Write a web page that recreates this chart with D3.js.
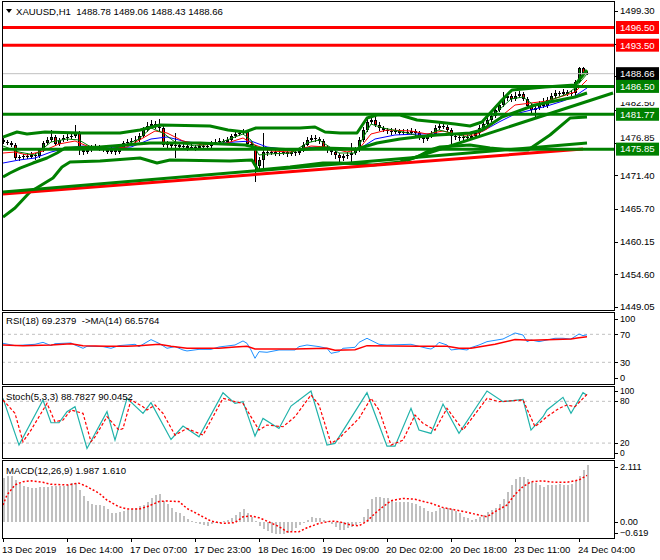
<!DOCTYPE html>
<html><head><meta charset="utf-8">
<script src="https://cdn.jsdelivr.net/npm/d3@7/dist/d3.min.js"></script>
<style>
html,body{margin:0;padding:0;background:#fff;overflow:hidden}
text{font-family:"Liberation Sans",Arial,sans-serif;font-size:9.6px;white-space:pre}
</style></head><body>
<svg id="chart" width="660" height="560"></svg>
<script>
// ---------------- DATA ----------------
const symbol = "XAUUSD,H1";
const barOpen = [1477.40,1477.06,1476.89,1476.55,1474.34,1474.51,1474.68,1474.51,1474.85,1474.68,
1475.70,1476.89,1477.40,1477.91,1476.72,1477.40,1477.74,1477.91,1478.08,1478.59,
1475.70,1475.36,1475.70,1476.04,1476.21,1476.04,1475.70,1475.36,1475.70,1475.36,
1476.04,1476.89,1477.06,1477.23,1477.40,1478.08,1479.10,1479.78,1480.11,1479.61,
1479.44,1476.55,1476.72,1476.38,1476.55,1476.21,1476.38,1476.04,1476.21,1476.04,
1476.38,1476.21,1476.38,1476.89,1477.06,1477.23,1477.06,1477.40,1478.08,1478.42,
1478.59,1478.76,1476.72,1476.21,1472.98,1474.00,1475.36,1475.19,1475.36,1475.02,
1475.19,1475.36,1475.02,1475.36,1475.19,1475.53,1476.55,1477.40,1477.74,1477.57,
1477.23,1476.21,1475.70,1475.36,1474.85,1474.34,1474.68,1474.85,1475.19,1475.70,
1477.40,1479.10,1480.45,1480.79,1479.94,1479.44,1479.10,1478.93,1478.76,1478.93,
1478.59,1478.76,1478.59,1478.93,1478.59,1477.91,1477.57,1478.08,1478.42,1479.44,
1479.78,1479.61,1479.10,1478.08,1477.91,1477.74,1477.91,1477.74,1478.08,1478.59,
1479.44,1480.11,1480.79,1481.47,1482.49,1483.34,1484.53,1484.87,1484.36,1484.87,
1485.21,1484.36,1483.17,1482.49,1482.83,1483.51,1483.17,1484.19,1484.87,1485.38,
1485.21,1485.55,1485.21,1485.38,1487.25,1489.62,1488.78];
const barHigh = [1477.80,1477.45,1477.20,1476.90,1474.90,1475.10,1475.20,1475.30,1475.20,1476.10,
1477.30,1477.90,1479.10,1478.30,1477.80,1478.20,1478.40,1478.60,1479.94,1478.90,
1476.10,1476.30,1476.50,1476.70,1476.60,1476.40,1476.10,1476.20,1476.00,1476.50,
1477.30,1477.60,1477.70,1478.00,1478.60,1479.60,1480.40,1480.80,1480.60,1481.00,
1479.80,1477.20,1477.10,1478.59,1477.00,1476.90,1476.80,1476.70,1476.60,1476.90,
1476.80,1476.90,1477.30,1477.50,1477.70,1477.60,1477.90,1478.50,1478.90,1479.10,
1479.30,1479.10,1477.10,1476.60,1474.50,1478.59,1475.80,1475.90,1475.70,1475.70,
1475.90,1475.80,1475.90,1475.80,1476.00,1477.00,1477.90,1478.30,1478.20,1477.90,
1477.60,1476.60,1476.10,1475.70,1475.20,1475.10,1475.40,1476.90,1476.20,1477.90,
1479.60,1481.13,1481.64,1481.30,1480.40,1479.80,1479.50,1479.40,1479.40,1479.30,
1479.20,1479.20,1479.40,1479.30,1479.00,1478.30,1478.50,1478.90,1479.90,1480.30,
1480.20,1480.00,1479.40,1478.50,1478.30,1478.40,1478.30,1478.60,1479.00,1479.90,
1480.60,1481.30,1482.00,1483.00,1484.00,1485.55,1485.40,1485.20,1485.50,1485.70,
1485.50,1484.70,1483.50,1483.30,1484.00,1484.50,1484.70,1485.30,1485.90,1485.80,
1486.10,1485.90,1485.90,1487.60,1489.79,1489.80,1489.06];
const barLow = [1476.70,1476.50,1476.20,1474.00,1473.90,1474.10,1474.10,1474.20,1474.00,1474.40,
1475.40,1476.60,1477.10,1476.30,1476.40,1477.10,1477.30,1477.50,1477.80,1474.85,
1474.90,1475.00,1475.30,1475.70,1475.60,1475.30,1475.00,1475.00,1474.90,1475.10,
1475.80,1476.60,1476.70,1476.90,1477.10,1477.80,1478.80,1479.40,1479.20,1479.00,
1476.20,1476.00,1475.90,1474.34,1475.80,1475.80,1475.60,1475.70,1475.50,1475.70,
1475.80,1475.90,1476.00,1476.60,1476.70,1476.70,1476.80,1477.10,1477.80,1478.10,
1478.20,1476.40,1475.80,1470.27,1472.40,1472.30,1474.70,1474.80,1474.60,1474.60,
1474.80,1474.50,1474.70,1474.70,1474.80,1475.30,1476.30,1477.10,1477.10,1476.80,
1475.80,1475.20,1474.80,1474.20,1473.50,1473.90,1474.20,1473.50,1474.90,1475.40,
1477.10,1478.80,1480.10,1479.60,1479.00,1478.70,1478.50,1478.30,1478.40,1478.20,
1478.20,1478.20,1478.30,1478.10,1477.40,1476.90,1477.20,1477.80,1478.10,1479.10,
1479.20,1478.70,1476.21,1477.40,1477.30,1477.30,1477.20,1477.40,1477.80,1478.30,
1479.10,1479.80,1480.40,1481.10,1482.10,1483.00,1484.10,1483.90,1484.00,1484.50,
1484.00,1482.80,1481.80,1481.30,1482.50,1482.80,1482.90,1483.90,1484.60,1484.90,
1484.90,1484.90,1484.80,1484.60,1487.00,1488.50,1488.43];
const barClose = [1477.06,1476.89,1476.55,1474.34,1474.51,1474.68,1474.51,1474.85,1474.68,1475.70,
1476.89,1477.40,1477.91,1476.72,1477.40,1477.74,1477.91,1478.08,1478.59,1475.70,
1475.36,1475.70,1476.04,1476.21,1476.04,1475.70,1475.36,1475.70,1475.36,1476.04,
1476.89,1477.06,1477.23,1477.40,1478.08,1479.10,1479.78,1480.11,1479.61,1479.44,
1476.55,1476.72,1476.38,1476.55,1476.21,1476.38,1476.04,1476.21,1476.04,1476.38,
1476.21,1476.38,1476.89,1477.06,1477.23,1477.06,1477.40,1478.08,1478.42,1478.59,
1478.76,1476.72,1476.21,1472.98,1474.00,1475.36,1475.19,1475.36,1475.02,1475.19,
1475.36,1475.02,1475.36,1475.19,1475.53,1476.55,1477.40,1477.74,1477.57,1477.23,
1476.21,1475.70,1475.36,1474.85,1474.34,1474.68,1474.85,1475.19,1475.70,1477.40,
1479.10,1480.45,1480.79,1479.94,1479.44,1479.10,1478.93,1478.76,1478.93,1478.59,
1478.76,1478.59,1478.93,1478.59,1477.91,1477.57,1478.08,1478.42,1479.44,1479.78,
1479.61,1479.10,1478.08,1477.91,1477.74,1477.91,1477.74,1478.08,1478.59,1479.44,
1480.11,1480.79,1481.47,1482.49,1483.34,1484.53,1484.87,1484.36,1484.87,1485.21,
1484.36,1483.17,1482.49,1482.83,1483.51,1483.17,1484.19,1484.87,1485.38,1485.21,
1485.55,1485.21,1485.38,1487.25,1489.62,1488.78,1488.66];

// thin moving averages (bar index, price)
const maFastBars = [0,4,8,12,16,19,22,26,30,34,37,40,43,48,54,58,60,62,64,66,72,76,79,84,88,90,92,95,100,105,109,112,116,120,124,127,130,133,137,141,143,146];
const maFastVals = [1476.38,1475.36,1474.85,1477.06,1477.57,1477.40,1476.21,1475.70,1476.38,1477.57,1479.44,1478.59,1477.06,1476.38,1476.89,1477.91,1478.42,1477.40,1474.85,1475.02,1475.19,1476.89,1477.40,1475.19,1475.19,1477.74,1480.11,1479.44,1478.76,1477.91,1479.10,1478.59,1477.91,1479.61,1482.49,1484.36,1484.70,1483.17,1484.19,1485.21,1486.23,1488.60];
const maMidBars = [0,3,6,10,14,18,21,26,31,35,38,41,45,50,56,60,63,67,72,77,81,86,89,92,96,102,106,110,114,118,121,124,128,132,136,140,143,146];
const maMidVals = [1475.19,1475.36,1474.85,1475.53,1476.72,1477.23,1476.38,1475.87,1476.21,1477.74,1478.93,1478.59,1477.23,1476.55,1476.89,1477.74,1476.55,1475.53,1475.36,1476.38,1476.21,1475.36,1475.87,1478.42,1479.10,1478.93,1478.42,1478.93,1478.25,1478.25,1479.27,1481.13,1483.34,1483.68,1484.02,1484.87,1485.55,1487.59];
const maSlowBars = [0,4,8,12,16,20,26,32,37,41,46,52,58,62,66,72,78,84,89,93,98,104,110,116,120,124,128,132,136,140,143,146];
const maSlowVals = [1473.49,1474.00,1474.34,1475.36,1476.04,1476.38,1476.04,1476.21,1477.57,1477.91,1477.06,1476.72,1477.06,1477.23,1476.21,1475.70,1476.21,1475.70,1475.87,1477.57,1478.25,1478.42,1478.42,1478.42,1478.93,1480.45,1481.81,1482.49,1483.17,1484.02,1484.87,1486.23];

// Bollinger bands
const bbUpBars = [0,3.5,6,10.5,19.25,29.25,34.25,39.25,51.75,56.25,60.5,63.25,74.25,78,80.5,84.25,88.5,91,93.5,99.25,103.5,108.5,113,116.75,119.75,124.75,127.25,135.5,143,146];
const bbUpVals = [1477.91,1478.76,1478.42,1478.76,1478.59,1478.59,1479.10,1479.94,1479.78,1479.10,1478.76,1479.44,1479.44,1479.61,1478.76,1478.59,1478.59,1481.13,1481.64,1481.64,1480.79,1480.45,1480.11,1479.78,1480.45,1484.19,1485.89,1486.40,1486.74,1489.28];
const bbMidBars = [0,1.75,4.25,7.5,11,13.5,15.5,24.25,36.75,49.25,60.5,63.75,73,80,88.5,93.5,99.25,103.5,108.5,113,116.75,119.75,124.75,133,143,146];
const bbMidVals = [1471.12,1471.80,1472.64,1473.49,1474.34,1475.19,1476.04,1476.21,1476.89,1476.89,1476.55,1476.04,1475.70,1476.04,1475.87,1476.89,1477.57,1477.91,1478.25,1478.42,1478.59,1479.10,1481.30,1483.34,1484.70,1485.38];
const bbLowBars = [0,3,6.75,12.5,14.75,16.75,24.25,34.25,38.5,41.75,56.75,62.25,63.75,71.75,80,84.25,92.5,99.25,103.5,106.75,109.25,116.75,121.75,126.75,131.25,136.75,141.75,146];
const bbLowVals = [1464.32,1465.85,1468.57,1470.95,1472.81,1473.66,1473.83,1474.34,1473.49,1474.00,1473.83,1474.00,1472.30,1472.81,1473.49,1473.49,1473.15,1473.66,1474.51,1475.70,1476.21,1476.55,1476.04,1475.70,1475.70,1478.25,1481.13,1481.30];

// trend lines [bar, price] endpoints
const redTrendBars = [0,145];   const redTrendVals = [1468.23,1475.87];
const greenTrend1Bars = [0,146]; const greenTrend1Vals = [1468.57,1476.89];
const greenTrend2Bars = [101,152.5]; const greenTrend2Vals = [1474.00,1485.38];

// horizontal levels
const resistanceLevels = [1496.50,1493.50];
const supportLevels = [1486.50,1481.77,1475.85];
const lastPrice = 1488.66;
const priceTicks = [1499.30,1493.75,1488.20,1482.50,1476.85,1471.40,1465.70,1460.15,1454.60,1449.05];

// RSI(18) and its MA(14)
const rsiBars = [0,3,8,10,12,13,17,18,20,21,23,25,27,29,33,34,35,37,39,41,43,45,46,49,52,54,58,60,61,62,63,64,66,69,73,74,76,79,81,82,84,85,88,89,91,92,94,96,102,104,106,107,108,109,111,112,114,116,117,119,121,125,127,128,130,131,132,134,136,138,140,142,144,145,146];
const rsiVals = [57.1,53.8,55.7,58.5,53.8,56.6,57.6,54.7,50.0,52.8,52.8,52.4,50.0,53.8,55.7,52.4,55.7,62.4,57.1,50.0,52.4,47.6,46.2,48.5,48.5,51.9,54.7,60.5,57.1,47.6,35.7,45.2,44.3,47.6,47.6,52.4,54.7,52.4,50.0,42.8,45.2,50.0,51.4,58.5,64.3,61.4,55.7,54.7,55.7,52.8,50.0,49.0,52.4,58.5,54.7,47.6,49.0,47.6,51.0,54.7,59.5,63.3,69.0,71.9,69.0,59.5,61.9,59.5,61.9,64.3,64.3,63.3,70.4,68.1,69.2379];
const rsiMaBars = [0,5,12,17,20,26,31,34,39,42,46,54,58,61,63,73,81,83,88,91,104,111,114,117,123,128,132,138,142,144,146];
const rsiMaVals = [54.7,53.8,54.7,56.6,53.8,52.8,52.8,53.8,55.7,52.8,50.0,50.0,51.9,52.8,49.0,49.0,50.0,47.1,48.1,53.8,52.8,52.8,50.0,50.0,55.7,62.4,61.4,62.4,63.3,65.2,66.5764];
const rsiTicks = [100,70,30,0];
const rsiLevels = [70,30];

// Stochastic(5,3,3)
const stoMainBars = [0,4,10,12,14,16,18,21,26,28,31,35,37,42,45,49,55,58,60,63,65,69,72,77,81,83,91,96,98,102,104,107,110,114,121,125,130,132,135,136,140,142,145,146];
const stoMainVals = [84.3,17.1,81.9,49.2,49.2,65.1,72.3,12.3,65.1,24.2,84.3,62.7,78.0,25.2,44.4,29.0,92.4,77.0,79.5,30.0,55.5,41.0,73.2,94.8,17.1,19.5,92.4,15.6,15.6,69.9,38.7,33.9,76.1,33.9,94.8,79.5,82.8,38.7,57.9,67.5,85.7,62.7,92.4,88.7827];
const stoSigBars = [0,3,5,7,11,13,15,17,20,22,23,26,29,30,32,35,36,38,40,43,46,50,55,58,60,64,66,70,73,77,79,82,84,89,92,94,97,100,103,105,108,111,115,121,124,130,133,136,139,141,143,146];
const stoSigVals = [81.9,62.7,21.9,38.7,77.0,50.7,53.1,67.5,62.7,21.9,29.0,57.9,38.7,41.0,81.9,72.3,67.5,74.7,62.7,31.5,41.0,31.5,84.3,79.5,77.0,38.7,45.9,43.5,57.9,89.1,74.7,19.5,26.7,55.5,84.3,67.5,17.1,24.2,60.3,48.3,38.7,69.9,38.7,84.3,79.5,81.9,43.5,57.9,69.9,74.7,72.3,90.0452];
const stoTicks = [100,80,20,0];
const stoLevels = [80,20];

// MACD(12,26,9)
const macdHist = [1.51,1.60,1.60,1.45,1.30,1.25,1.22,1.18,1.16,1.21,
1.22,1.22,1.23,1.25,1.25,1.23,1.28,1.34,1.36,1.10,
0.88,0.72,0.63,0.58,0.58,0.53,0.43,0.31,0.29,0.34,
0.38,0.41,0.43,0.49,0.53,0.59,0.70,0.84,0.93,0.95,
0.72,0.62,0.49,0.35,0.29,0.21,0.09,0.02,-0.03,-0.08,
-0.13,-0.14,-0.09,-0.06,-0.05,0.01,0.06,0.12,0.22,0.34,
0.44,0.31,0.15,0.02,-0.15,-0.26,-0.33,-0.38,-0.42,-0.44,
-0.44,-0.39,-0.34,-0.21,-0.10,-0.01,0.06,0.17,0.14,0.12,
0.07,0.03,-0.08,-0.17,-0.29,-0.29,-0.23,-0.19,-0.12,-0.03,
0.15,0.45,0.78,0.85,0.85,0.81,0.81,0.75,0.70,0.67,
0.70,0.67,0.65,0.60,0.55,0.46,0.37,0.33,0.37,0.46,
0.46,0.48,0.43,0.36,0.29,0.17,0.12,0.06,0.09,0.16,
0.22,0.33,0.39,0.49,0.60,0.79,1.05,1.28,1.49,1.57,
1.56,1.50,1.39,1.34,1.28,1.22,1.28,1.28,1.28,1.30,
1.28,1.28,1.30,1.42,1.60,1.80,1.987];
const macdSigBars = [0,1,3,5,7,10,12,16,19,21,24,26,29,31,34,36,39,41,44,46,50,52,55,58,60,62,64,66,69,71,74,76,79,82,84,87,89,91,93,95,97,100,103,107,110,113,116,119,121,123,126,128,130,132,135,138,141,144,146];
const macdSigVals = [0.58,0.93,1.28,1.39,1.42,1.37,1.30,1.28,1.34,1.22,0.99,0.75,0.52,0.44,0.44,0.52,0.70,0.72,0.70,0.46,0.17,0.02,-0.06,-0.03,0.17,0.20,0.14,0.02,-0.17,-0.35,-0.35,-0.21,-0.06,0.02,0.00,-0.12,-0.14,0.02,0.29,0.52,0.73,0.81,0.78,0.64,0.49,0.41,0.33,0.23,0.17,0.35,0.58,0.95,1.22,1.39,1.42,1.37,1.37,1.45,1.610];
const macdRange = [-0.619,2.111];
const macdTicks = [2.111,0.00,-0.619];

// time axis
const timeTickBars = [0,16,32,48,64,80,96,112,128,144];
const timeTickLabels = ["13 Dec 2019","16 Dec 14:00","17 Dec 07:00","17 Dec 23:00","18 Dec 16:00","19 Dec 09:00","20 Dec 02:00","20 Dec 18:00","23 Dec 11:00","24 Dec 04:00"];

// ---------------- DRAW ----------------
const GREEN="#008000", RED="#ff0000", BLUE="#0000ff";
const svg=d3.select("#chart");
const XL=2, XR=614;
const P={main:[1,310],rsi:[312,384],sto:[386,458],macd:[460,538]};
const n=barClose.length;
const x=d3.scaleLinear().domain([0,n-1]).range([3,587]);
const yP=d3.scaleLinear().domain([1449.05,1499.30]).range([307,11]);
const yR=d3.scaleLinear().domain([0,100]).range([383.3,313.3]);
const yS=d3.scaleLinear().domain([0,100]).range([457,387.4]);
const yM=d3.scaleLinear().domain(macdRange).range([539.5,461]);
const zip=(b,v)=>b.map((d,k)=>[d,v[k]]);

const defs=svg.append("defs");
Object.entries(P).forEach(([k,[t,b]])=>{
  defs.append("clipPath").attr("id","clip-"+k).append("rect")
    .attr("x",XL+1).attr("y",t+1).attr("width",XR-XL-1).attr("height",b-t-1);
});

// ---------- main panel ----------
const gMain=svg.append("g").attr("clip-path","url(#clip-main)");
const gC=gMain.append("g").attr("shape-rendering","crispEdges");
const idx=d3.range(n);
gC.selectAll("line.w").data(idx).join("line").attr("class","w")
  .attr("x1",i=>Math.round(x(i))+0.5).attr("x2",i=>Math.round(x(i))+0.5)
  .attr("y1",i=>yP(barHigh[i])).attr("y2",i=>yP(barLow[i])).attr("stroke","#000");
const bodyTop=i=>Math.round(yP(Math.max(barOpen[i],barClose[i])));
const bodyH=i=>Math.max(1,Math.round(yP(Math.min(barOpen[i],barClose[i])))-bodyTop(i));
gC.selectAll("rect.b").data(idx).join("rect").attr("class","b")
  .attr("x",i=>Math.round(x(i))-1).attr("y",bodyTop).attr("width",3).attr("height",bodyH).attr("fill","#000");
gC.selectAll("rect.f").data(idx.filter(i=>bodyH(i)>2)).join("rect").attr("class","f")
  .attr("x",i=>Math.round(x(i))).attr("y",i=>bodyTop(i)+1).attr("width",1).attr("height",i=>bodyH(i)-2)
  .attr("fill",i=>barClose[i]>=barOpen[i]?GREEN:RED);

const lineP=d3.line().x(d=>x(d[0])).y(d=>yP(d[1]));
function pl(g,data,color,w){
  return g.append("path").attr("d",lineP(data)).attr("fill","none").attr("stroke",color)
    .attr("stroke-width",w).attr("stroke-linejoin","round");
}
pl(gMain,zip(maSlowBars,maSlowVals),BLUE,1);
pl(gMain,zip(maMidBars,maMidVals),RED,1);
pl(gMain,zip(maFastBars,maFastVals),GREEN,1);
pl(gMain,zip(bbUpBars,bbUpVals),GREEN,3);
pl(gMain,zip(bbMidBars,bbMidVals),GREEN,3);
pl(gMain,zip(bbLowBars,bbLowVals),GREEN,3);
pl(gMain,zip(redTrendBars,redTrendVals),RED,3);
pl(gMain,zip(greenTrend1Bars,greenTrend1Vals),GREEN,3);
pl(gMain,zip(greenTrend2Bars,greenTrend2Vals),GREEN,3);
gMain.append("line").attr("x1",XL).attr("x2",XR).attr("y1",yP(lastPrice)).attr("y2",yP(lastPrice))
  .attr("stroke","#c0c0c0").attr("stroke-width",1);
gMain.selectAll("line.res").data(resistanceLevels).join("line").attr("class","res")
  .attr("x1",XL).attr("x2",XR).attr("y1",d=>yP(d)).attr("y2",d=>yP(d)).attr("stroke",RED).attr("stroke-width",3);
gMain.selectAll("line.sup").data(supportLevels).join("line").attr("class","sup")
  .attr("x1",XL).attr("x2",XR).attr("y1",d=>yP(d)).attr("y2",d=>yP(d)).attr("stroke",GREEN).attr("stroke-width",3);

// header
svg.append("path").attr("d","M6,9 L12,9 L9,13 Z").attr("fill","#000");
const lastI=n-1;
svg.append("text").attr("x",16).attr("y",15).attr("font-size","10px")
  .text(symbol+"  "+[barOpen[lastI],barHigh[lastI],barLow[lastI],barClose[lastI]].map(d3.format(".2f")).join(" "));

// ---------- RSI ----------
const gR=svg.append("g").attr("clip-path","url(#clip-rsi)");
gR.selectAll("line").data(rsiLevels).join("line").attr("x1",XL).attr("x2",XR)
  .attr("y1",d=>yR(d)).attr("y2",d=>yR(d)).attr("stroke","#c0c0c0").attr("stroke-dasharray","3,3");
gR.append("path").attr("d",d3.line().x(d=>x(d[0])).y(d=>yR(d[1]))(zip(rsiBars,rsiVals)))
  .attr("fill","none").attr("stroke","#1e90ff").attr("stroke-width",1);
gR.append("path").attr("d",d3.line().x(d=>x(d[0])).y(d=>yR(d[1]))(zip(rsiMaBars,rsiMaVals)))
  .attr("fill","none").attr("stroke",RED).attr("stroke-width",1.5);
svg.append("text").attr("x",6).attr("y",324).text("RSI(18) "+d3.format(".4f")(rsiVals[rsiVals.length-1])+"  ->MA(14) "+d3.format(".4f")(rsiMaVals[rsiMaVals.length-1]));

// ---------- Stochastic ----------
const gS=svg.append("g").attr("clip-path","url(#clip-sto)");
gS.selectAll("line").data(stoLevels).join("line").attr("x1",XL).attr("x2",XR)
  .attr("y1",d=>yS(d)).attr("y2",d=>yS(d)).attr("stroke","#c0c0c0").attr("stroke-dasharray","3,3");
gS.append("path").attr("d",d3.line().x(d=>x(d[0])).y(d=>yS(d[1]))(zip(stoMainBars,stoMainVals)))
  .attr("fill","none").attr("stroke","#20b2aa").attr("stroke-width",1.2);
gS.append("path").attr("d",d3.line().x(d=>x(d[0])).y(d=>yS(d[1]))(zip(stoSigBars,stoSigVals)))
  .attr("fill","none").attr("stroke",RED).attr("stroke-width",1.2).attr("stroke-dasharray","3,2");
svg.append("text").attr("x",6).attr("y",400).text("Stoch(5,3,3) "+d3.format(".4f")(stoMainVals[stoMainVals.length-1])+" "+d3.format(".4f")(stoSigVals[stoSigVals.length-1]));

// ---------- MACD ----------
const gM=svg.append("g").attr("clip-path","url(#clip-macd)");
gM.selectAll("rect").data(macdHist).join("rect").attr("shape-rendering","crispEdges")
  .attr("x",(d,i)=>Math.round(x(i))).attr("width",1.6)
  .attr("y",d=>Math.min(yM(d),yM(0))).attr("height",d=>Math.max(1,Math.abs(yM(d)-yM(0))))
  .attr("fill","#c0c0c0");
gM.append("path").attr("d",d3.line().x(d=>x(d[0])).y(d=>yM(d[1]))(zip(macdSigBars,macdSigVals)))
  .attr("fill","none").attr("stroke",RED).attr("stroke-width",1.5).attr("stroke-dasharray","2,2");
svg.append("text").attr("x",6).attr("y",474).text("MACD(12,26,9) "+d3.format(".3f")(macdHist[n-1])+" "+d3.format(".3f")(macdSigVals[macdSigVals.length-1]));

// ---------- frames ----------
Object.values(P).forEach(([t,b])=>{
  svg.append("rect").attr("x",XL+0.5).attr("y",t+0.5).attr("width",XR-XL).attr("height",b-t)
    .attr("fill","none").attr("stroke","#000").attr("stroke-width",1).attr("shape-rendering","crispEdges");
});

// ---------- right axes ----------
const gAx=svg.append("g").attr("shape-rendering","crispEdges");
const boxVals=resistanceLevels.concat(supportLevels,[lastPrice]);
function axisLabels(vals,pos,fmt,top,bot,clampTop,clampBot,fs){
  vals.forEach(v=>{
    let yy=pos(v);
    if(clampTop!=null) yy=Math.max(top+clampTop,Math.min(bot-clampBot,yy));
    gAx.append("line").attr("x1",XR).attr("x2",XR+4).attr("y1",Math.round(yy)+0.5).attr("y2",Math.round(yy)+0.5).attr("stroke","#000");
    if(clampTop==null){
      const cover=boxVals.map(b=>yP(b)).filter(by=>Math.abs(by-yy)<10);
      if(cover.length){
        const boxTop=Math.min(...cover)-6.5;
        if(boxTop-(yy-5)<2) return; // fully hidden behind a price box
        const id="tc"+Math.round(yy);
        defs.append("clipPath").attr("id",id).append("rect").attr("x",XR).attr("y",yy-8).attr("width",46).attr("height",boxTop-(yy-8));
        gAx.append("text").attr("clip-path","url(#"+id+")").attr("x",XR+6).attr("y",boxTop).attr("dy","-0.2em").text(fmt(v));
        return;
      }
    }
    const t=svg.append("text").attr("x",XR+6).attr("y",yy).attr("dy","0.35em").text(fmt(v));
    if(fs) t.style("font-size",fs);
  });
}
axisLabels(priceTicks,yP,d3.format(".2f"),P.main[0],P.main[1],null,null,null);
axisLabels(rsiTicks,yR,d3.format("d"),P.rsi[0],P.rsi[1],7,6,"9.2px");
axisLabels(stoTicks,yS,d3.format("d"),P.sto[0],P.sto[1],5,5,"8.5px");
axisLabels(macdTicks,yM,v=>v===0?"0.00":d3.format(".3f")(v),P.macd[0],P.macd[1],7,5,"9.2px");

// price boxes
function box(v,fill){
  const yy=yP(v);
  svg.append("rect").attr("x",XR+2).attr("y",yy-6.5).attr("width",43).attr("height",13).attr("fill",fill);
  svg.append("text").attr("x",XR+6).attr("y",yy).attr("dy","0.35em").attr("fill","#fff").text(d3.format(".2f")(v));
}
resistanceLevels.forEach(v=>box(v,RED));
box(lastPrice,"#000");
supportLevels.forEach(v=>box(v,GREEN));

// ---------- time axis ----------
timeTickBars.forEach((b,k)=>{
  const xx=Math.round(x(b))+0.5;
  gAx.append("line").attr("x1",xx).attr("x2",xx).attr("y1",P.macd[1]).attr("y2",P.macd[1]+4).attr("stroke","#000");
  svg.append("text").attr("x",xx-1.5).attr("y",553).text(timeTickLabels[k]);
});
</script>
</body></html>
